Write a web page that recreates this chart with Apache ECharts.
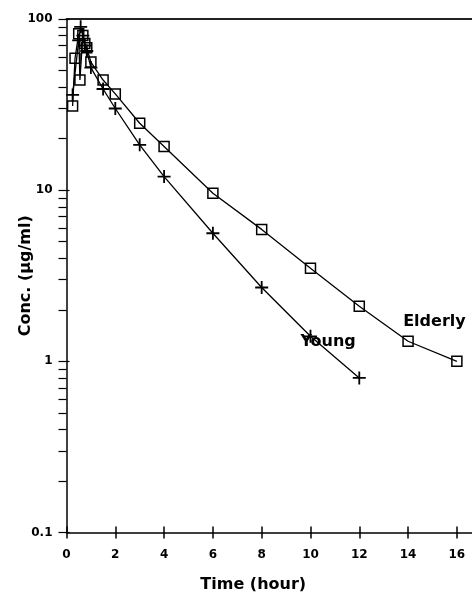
<!DOCTYPE html>
<html>
<head>
<meta charset="utf-8">
<script src="https://cdn.jsdelivr.net/npm/echarts@6/dist/echarts.min.js"></script>
<style>html,body{margin:0;padding:0;background:#fff}#c{width:472px;height:592px}</style>
</head>
<body>
<div id="c"></div>
<script>
// Data (time in hours, concentration in µg/ml)
const youngTime = [0.25, 0.5, 0.58, 0.67, 0.75, 0.83, 1, 1.5, 2, 3, 4, 6, 8, 10, 12];
const youngConc = [36, 75, 90, 80, 70, 65, 52, 39, 30, 18.4, 12, 5.6, 2.7, 1.4, 0.8];
const elderlyTime = [0.25, 0.35, 0.5, 0.55, 0.67, 0.75, 0.83, 1, 1.5, 2, 3, 4, 6, 8, 10, 12, 14, 16];
const elderlyConc = [31, 59, 82, 44, 80, 72, 68, 56, 44, 36.5, 24.6, 18, 9.6, 5.9, 3.5, 2.1, 1.31, 1.0];
const xTicks = [0, 2, 4, 6, 8, 10, 12, 14, 16];
const yMajor = [0.1, 1, 10, 100];
const yTicks = [0.1,0.2,0.3,0.4,0.5,0.6,0.7,0.8,0.9,1,2,3,4,5,6,7,8,9,10,20,30,40,50,60,70,80,90,100];
const seriesNames = ['Young', 'Elderly'];
const labelAnchors = { Young: [10.72, 1.3], Elderly: [15.08, 1.7] };

const FONT = '"DejaVu Sans", sans-serif';
const plusPath = 'path://M4.3,0H5.7V4.3H10V5.7H5.7V10H4.3V5.7H0V4.3H4.3Z';

const chart = echarts.init(document.getElementById('c'), null, { renderer: 'canvas' });
const xRange = { min: 0, max: 16.62 };
chart.setOption({
  animation: false,
  backgroundColor: '#fff',
  grid: { left: 66.5, top: 19, right: 0, bottom: 59.5, containLabel: false, outerBoundsMode: 'none' },
  xAxis: [
    {
      type: 'value', position: 'bottom', ...xRange,
      name: 'Time (hour)', nameLocation: 'middle', nameGap: 44,
      nameTextStyle: { fontFamily: FONT, fontWeight: 'bold', fontSize: 16, color: '#000', padding: [0, 32, 0, 0] },
      axisLine: { show: true, lineStyle: { color: '#000', width: 1.5 } },
      axisTick: { show: true, length: 6, inside: false, customValues: xTicks, lineStyle: { color: '#000', width: 1.5 } },
      axisLabel: { show: true, customValues: xTicks, margin: 16, fontFamily: FONT, fontWeight: 'bold', fontSize: 12, color: '#000' },
      splitLine: { show: false }
    },
    {
      type: 'value', position: 'bottom', ...xRange,
      axisLine: { show: false },
      axisTick: { show: true, length: 6, inside: true, customValues: xTicks, lineStyle: { color: '#000', width: 1.5 } },
      axisLabel: { show: false },
      splitLine: { show: false }
    },
    {
      type: 'value', position: 'top', ...xRange,
      axisLine: { show: true, lineStyle: { color: '#222', width: 2 } },
      axisTick: { show: false }, axisLabel: { show: false }, splitLine: { show: false }
    }
  ],
  yAxis: [
    {
      type: 'log', logBase: 10, min: 0.1, max: 100, position: 'left',
      name: 'Conc. (µg/ml)', nameLocation: 'middle', nameGap: 33, nameRotate: 90, nameMoveOverlap: false,
      nameTextStyle: { fontFamily: FONT, fontWeight: 'bold', fontSize: 16, color: '#000' },
      axisLine: { show: true, lineStyle: { color: '#000', width: 1.5 } },
      axisTick: { show: true, length: 8, inside: false, customValues: yTicks, lineStyle: { color: '#000', width: 1.2 } },
      axisLabel: { show: true, customValues: yMajor, margin: 14, fontFamily: FONT, fontWeight: 'bold', fontSize: 12, color: '#000',
        formatter: v => String(v) },
      splitLine: { show: false }, minorTick: { show: false }
    },
    {
      type: 'log', logBase: 10, min: 0.1, max: 100, position: 'left',
      axisLine: { show: false },
      axisTick: { show: true, length: 3, inside: true, customValues: yMajor, lineStyle: { color: '#000', width: 1.2 } },
      axisLabel: { show: false }, splitLine: { show: false }
    }
  ],
  series: [
    {
      name: seriesNames[0], type: 'line', xAxisIndex: 0, yAxisIndex: 0,
      data: youngTime.map((t, i) => [t, youngConc[i]]),
      symbol: plusPath, symbolSize: 13, showAllSymbol: true,
      itemStyle: { color: '#000' },
      lineStyle: { color: '#000', width: 1.3 },
      markPoint: {
        symbol: 'rect', symbolSize: 0,
        data: [{ coord: labelAnchors.Young }],
        label: { show: true, formatter: seriesNames[0], position: 'inside', fontFamily: FONT, fontWeight: 'bold', fontSize: 16, color: '#000' }
      }
    },
    {
      name: seriesNames[1], type: 'line', xAxisIndex: 0, yAxisIndex: 0,
      data: elderlyTime.map((t, i) => [t, elderlyConc[i]]),
      symbol: 'rect', symbolSize: 10, showAllSymbol: true,
      itemStyle: { color: 'rgba(0,0,0,0)', borderColor: '#000', borderWidth: 1.5 },
      lineStyle: { color: '#000', width: 1.3 },
      markPoint: {
        symbol: 'rect', symbolSize: 0,
        data: [{ coord: labelAnchors.Elderly }],
        label: { show: true, formatter: seriesNames[1], position: 'inside', fontFamily: FONT, fontWeight: 'bold', fontSize: 16, color: '#000' }
      }
    }
  ]
});
</script>
</body>
</html>
